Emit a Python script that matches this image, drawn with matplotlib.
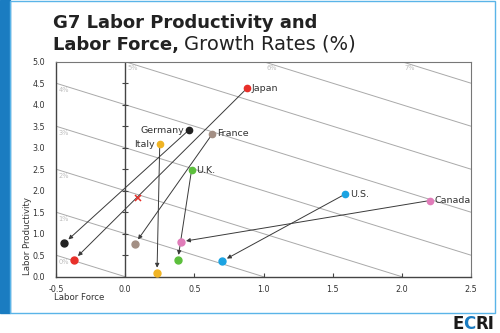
import matplotlib
matplotlib.use("Agg")
import matplotlib.pyplot as plt
from matplotlib.patches import Rectangle

plt.rcParams['font.family'] = ['DejaVu Sans']

# Growth rates (%): labor force (x) and labor productivity (y)
countries = ["Japan", "Germany", "France", "Italy", "U.K.", "U.S.", "Canada"]
colors = ["#e8302a", "#222222", "#a38f84", "#f0b424", "#5cbf3c", "#1ba3e2", "#e07cb9"]
force_early = [0.88, 0.46, 0.63, 0.25, 0.48, 1.59, 2.20]
prod_early = [4.38, 3.41, 3.32, 3.08, 2.48, 1.92, 1.77]
force_late = [-0.37, -0.44, 0.07, 0.23, 0.38, 0.70, 0.40]
prod_late = [0.39, 0.78, 0.76, 0.08, 0.38, 0.36, 0.81]
label_side = ["right", "left", "right", "left", "right", "right", "right"]

g7_force = [0.09]
g7_prod = [1.82]

# Iso-growth lines: labor force + productivity = GDP growth
iso_levels = [0, 1, 2, 3, 4, 5, 6, 7]

x_ticks = [-0.5, 0.0, 0.5, 1.0, 1.5, 2.0, 2.5]
y_ticks = [0.0, 0.5, 1.0, 1.5, 2.0, 2.5, 3.0, 3.5, 4.0, 4.5, 5.0]

fig = plt.figure(figsize=(5.0, 3.33), dpi=100)

# Frame and side bar
fig.patches.append(Rectangle((0, 1 - 313 / 333), 10 / 500, 313 / 333,
                             transform=fig.transFigure, color="#1a7cc1", zorder=0))
fig.patches.append(Rectangle((10 / 500, 1 - 313 / 333), 485 / 500, 312.5 / 333,
                             transform=fig.transFigure, fill=False,
                             edgecolor="#5ab4e8", lw=1.0, zorder=0))

ax = fig.add_axes([56 / 500, 1 - 276.7 / 333, 415 / 500, 215 / 333])
xmin, xmax, ymin, ymax = -0.5, 2.5, 0.0, 5.0
ax.set_xlim(xmin, xmax)
ax.set_ylim(ymin, ymax)

for c in iso_levels:
    x0 = max(xmin, c - ymax)
    x1 = min(xmax, c - ymin)
    if x1 <= x0:
        continue
    ax.plot([x0, x1], [c - x0, c - x1], color="#a9a9a9", lw=0.7, zorder=1)
    ax.text(x0 + 0.02, c - x0 - 0.08, f"{c}%", color="#bdbdbd", fontsize=4.8,
            ha="left", va="top", zorder=1)

# Zero line with its own ticks
ax.axvline(0, color="#444444", lw=1.0, zorder=2)
ax.plot([0] * (len(y_ticks) - 2), y_ticks[1:-1], ls="none", marker="_",
        color="#444444", ms=4, mew=0.8, zorder=2)

for i, name in enumerate(countries):
    ax.annotate("", xy=(force_late[i], prod_late[i]),
                xytext=(force_early[i], prod_early[i]),
                arrowprops=dict(arrowstyle="-|>", color="#3a3a3a", lw=0.7,
                                mutation_scale=6, shrinkA=2, shrinkB=4),
                zorder=3)
    ax.plot(force_early[i], prod_early[i], "o", color=colors[i], ms=4.5, zorder=4)
    ax.plot(force_late[i], prod_late[i], "o", color=colors[i], ms=5, zorder=4)
    if label_side[i] == "right":
        ax.text(force_early[i] + 0.035, prod_early[i], name, fontsize=6.8,
                color="#333333", ha="left", va="center", zorder=5)
    else:
        ax.text(force_early[i] - 0.035, prod_early[i], name, fontsize=6.8,
                color="#333333", ha="right", va="center", zorder=5)

ax.plot(g7_force, g7_prod, "x", color="#e8302a", ms=4, mew=1.1, zorder=4)

ax.set_xticks(x_ticks)
ax.set_yticks(y_ticks)
ax.set_xticklabels([f"{v:.1f}" for v in x_ticks])
ax.set_yticklabels([f"{v:.1f}" for v in y_ticks])
ax.tick_params(axis="x", direction="in", length=3, width=0.8, color="#444444",
               labelsize=5.8, labelcolor="#333333", pad=6)
ax.tick_params(axis="y", length=0, labelsize=5.8, labelcolor="#333333", pad=8)

for side in ["left", "bottom"]:
    ax.spines[side].set_color("#444444")
    ax.spines[side].set_linewidth(1.0)
for side in ["top", "right"]:
    ax.spines[side].set_color("#777777")
    ax.spines[side].set_linewidth(0.8)

fig.text(54 / 500, 1 - 298 / 333, "Labor Force", fontsize=6.2, color="#333333",
         ha="left", va="center")
fig.text(28 / 500, 1 - 236 / 333, "Labor Productivity", fontsize=6.2,
         color="#333333", rotation=90, ha="center", va="center")

# Title
fig.text(53 / 500, 1 - 28 / 333, "G7 Labor Productivity and", fontsize=13,
         fontweight="bold", color="#222222", ha="left", va="baseline")
t_bold = fig.text(53 / 500, 1 - 50 / 333, "Labor Force,", fontsize=13,
                  fontweight="bold", color="#222222", ha="left", va="baseline")
renderer = fig.canvas.get_renderer()
bb = t_bold.get_window_extent(renderer=renderer)
fig.text(bb.x1 / fig.bbox.width + 5 / 500, 1 - 50 / 333, "Growth Rates (%)",
         fontsize=14, color="#222222", ha="left", va="baseline")

# Logo
e = fig.text(452 / 500, 1 - 329 / 333, "E", fontsize=12, fontweight="bold",
             color="#1a1a1a", ha="left", va="baseline")
bb = e.get_window_extent(renderer=renderer)
c = fig.text(bb.x1 / fig.bbox.width, 1 - 329 / 333, "C", fontsize=12,
             fontweight="bold", color="#1a7cc1", ha="left", va="baseline")
bb = c.get_window_extent(renderer=renderer)
fig.text(bb.x1 / fig.bbox.width, 1 - 329 / 333, "RI", fontsize=12,
         fontweight="bold", color="#1a1a1a", ha="left", va="baseline")

fig.savefig("out.png", dpi=100)
